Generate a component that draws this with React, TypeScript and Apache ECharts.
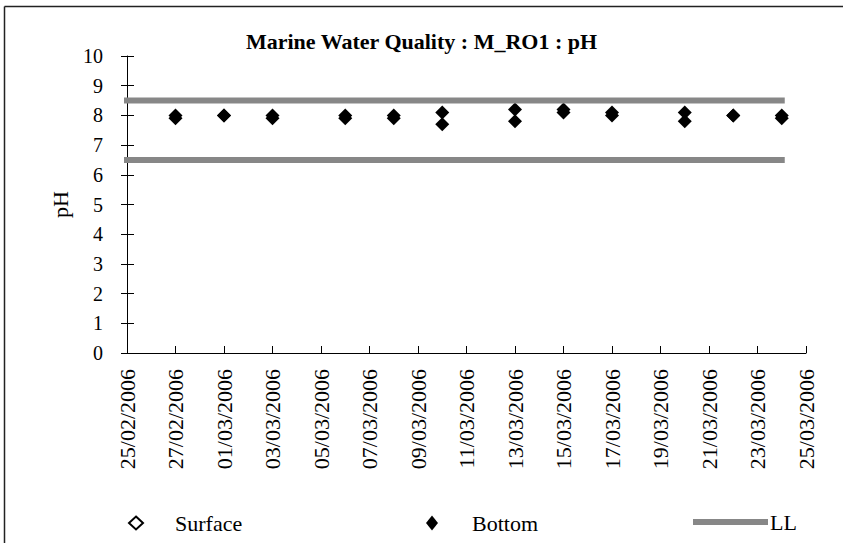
import React, { useEffect, useRef } from "react";
import * as echarts from "echarts";

const sampleDates = [
  "27/02/2006", "01/03/2006", "03/03/2006", "06/03/2006", "08/03/2006", "10/03/2006",
  "13/03/2006", "15/03/2006", "17/03/2006", "20/03/2006", "22/03/2006", "24/03/2006",
];
const surfaceValues = [8.0, 8.0, 8.0, 8.0, 8.0, 8.1, 8.2, 8.2, 8.1, 8.1, 8.0, 8.0];
const bottomValues = [7.9, 8.0, 7.9, 7.9, 7.9, 7.7, 7.8, 8.1, 8.0, 7.8, 8.0, 7.9];
const limitDates = ["25/02/2006", "24/03/2006"];
const upperLimit = [8.5, 8.5];
const lowerLimit = [6.5, 6.5];
const axisStart = "25/02/2006";
const axisEnd = "25/03/2006";

const DAY = 86400000;
const toMs = (s: string) => {
  const [d, m, y] = s.split("/").map(Number);
  return Date.UTC(y, m - 1, d);
};
const fmt = (v: number) => {
  const dt = new Date(v);
  const dd = String(dt.getUTCDate()).padStart(2, "0");
  const mm = String(dt.getUTCMonth() + 1).padStart(2, "0");
  return `${dd}/${mm}/${dt.getUTCFullYear()}`;
};

const FONT = "'Liberation Serif', 'Times New Roman', serif";

export default function App() {
  const ref = useRef<HTMLDivElement>(null);
  useEffect(() => {
    if (!ref.current) return;
    const chart = echarts.init(ref.current, undefined, { renderer: "svg" });
    const limitColor = "#878787";
    const legendText = { fontFamily: FONT, fontSize: 22, color: "#000" };
    chart.setOption({
      animation: false,
      backgroundColor: "#fff",
      textStyle: { fontFamily: FONT, color: "#000" },
      title: {
        text: "Marine Water Quality : M_RO1 : pH",
        left: "center",
        top: 25,
        textStyle: { fontFamily: FONT, fontSize: 22, fontWeight: "bold", color: "#000" },
      },
      grid: { left: 127, right: 37, top: 56, bottom: 193, containLabel: false },
      xAxis: {
        type: "value",
        min: toMs(axisStart),
        max: toMs(axisEnd),
        interval: 2 * DAY,
        axisLine: { show: true, lineStyle: { color: "#000", width: 1 } },
        axisTick: { show: true, inside: true, length: 7, lineStyle: { color: "#000" } },
        splitLine: { show: false },
        axisLabel: {
          rotate: 90,
          margin: 16,
          showMaxLabel: true,
          showMinLabel: true,
          fontFamily: FONT,
          fontSize: 22,
          color: "#000",
          formatter: (v: number) => fmt(v),
        },
      },
      yAxis: [
        {
          type: "value",
          min: 0,
          max: 10,
          interval: 1,
          name: "pH",
          nameLocation: "middle",
          nameRotate: 90,
          nameGap: 56,
          nameTextStyle: { fontFamily: FONT, fontSize: 22, color: "#000" },
          axisLine: { show: true, lineStyle: { color: "#000", width: 1 } },
          axisTick: { show: true, length: 6, lineStyle: { color: "#000" } },
          splitLine: { show: false },
          axisLabel: { margin: 24, fontFamily: FONT, fontSize: 20, color: "#000" },
        },
        {
          type: "value",
          min: 0,
          max: 10,
          interval: 1,
          position: "left",
          axisLine: { show: false },
          axisTick: { show: true, inside: true, length: 7, lineStyle: { color: "#000" } },
          splitLine: { show: false },
          axisLabel: { show: false },
        },
      ],
      legend: [
        {
          data: [
            {
              name: "Surface",
              icon: "diamond",
              itemStyle: { color: "#fff", borderColor: "#000", borderWidth: 2 },
            },
          ],
          left: 123,
          top: 507,
          itemWidth: 14,
          itemHeight: 13,
          textStyle: { ...legendText, padding: [0, 0, 0, 27] },
        },
        {
          data: [{ name: "Bottom", icon: "diamond" }],
          left: 421,
          top: 507,
          itemWidth: 12,
          itemHeight: 15,
          textStyle: { ...legendText, padding: [0, 0, 0, 29] },
        },
        {
          data: [{ name: "LL", icon: "rect" }],
          left: 688,
          top: 506,
          itemWidth: 75,
          itemHeight: 6,
          textStyle: { ...legendText, padding: [0, 0, 0, -3] },
        },
      ],
      graphic: [
        { type: "line", shape: { x1: 4.5, y1: 6.5, x2: 843, y2: 6.5 }, style: { stroke: "#222", lineWidth: 1.5 } },
        { type: "line", shape: { x1: 4.5, y1: 6.5, x2: 4.5, y2: 543 }, style: { stroke: "#222", lineWidth: 1.5 } },
      ],
      series: [
        {
          name: "LL",
          type: "line",
          data: limitDates.map((d, i) => [toMs(d), upperLimit[i]]),
          symbol: "none",
          clip: false,
          lineStyle: { color: limitColor, width: 6, cap: "square" },
          itemStyle: { color: limitColor },
        },
        {
          name: "LL",
          type: "line",
          data: limitDates.map((d, i) => [toMs(d), lowerLimit[i]]),
          symbol: "none",
          clip: false,
          lineStyle: { color: limitColor, width: 6, cap: "square" },
          itemStyle: { color: limitColor },
        },
        {
          name: "Surface",
          type: "scatter",
          symbol: "diamond",
          symbolSize: 14,
          data: sampleDates.map((d, i) => [toMs(d), surfaceValues[i]]),
          itemStyle: { color: "#000", opacity: 1 },
        },
        {
          name: "Bottom",
          type: "scatter",
          symbol: "diamond",
          symbolSize: 14,
          data: sampleDates.map((d, i) => [toMs(d), bottomValues[i]]),
          itemStyle: { color: "#000", opacity: 1 },
        },
      ],
    });
    return () => chart.dispose();
  }, []);
  return (
    <div
      ref={ref}
      style={{ position: "fixed", left: 0, top: 0, width: 843, height: 546, background: "#fff" }}
    />
  );
}
